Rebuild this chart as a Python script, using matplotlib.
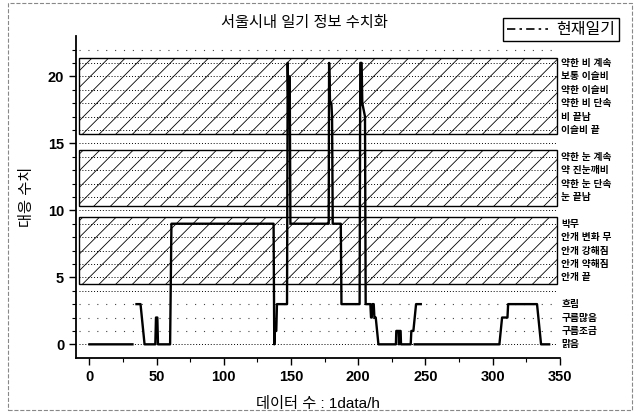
import numpy as np
import matplotlib
matplotlib.use('Agg')
import matplotlib.pyplot as plt
from matplotlib.patches import Rectangle
from matplotlib.lines import Line2D

plt.rcParams['font.family'] = ['Liberation Sans', 'Noto Sans CJK KR']
plt.rcParams['hatch.color'] = '#8c8c8c'
plt.rcParams['hatch.linewidth'] = 0.6

# weather code -> label shown on the right
codes = [0, 1, 2, 3, 5, 6, 7, 8, 9, 11, 12, 13, 14, 16, 17, 18, 19, 20, 21]
code_names = ['맑음', '구름조금', '구름많음', '흐림',
              '안개 끝', '안개 약해짐', '안개 강해짐', '안개 변화 무', '박무',
              '눈 끝남', '약한 눈 단속', '약 진눈깨비', '약한 눈 계속',
              '이슬비 끝', '비 끝남', '약한 비 단속', '약한 이슬비', '보통 이슬비', '약한 비 계속']

# hatched category bands (fog, snow, rain)
band_low = [4.5, 10.3, 15.7]
band_high = [9.5, 14.5, 21.4]

# observed weather, hourly (nan = missing)
hours = [0, 32, np.nan,
         35, 38, 39, 40, 41, 49, 49.5, 50.5, 51, 60, 61, 137, 137.5, 138, 139, 139.5,
         147, 147.5, 148, 149, 149.5, 178, 178.3, 179, 180, 180.5, 181, 187, 187.5,
         201, 201.5, 202.5, 203, 205, 205.5, 209, 209.5, 210, 210.5, 211.5, 212, 213, 215,
         228, 228.3, 230, 230.3, 230.6, 231.5, 231.8, 239, 239.5, 241, 243, 246.5, np.nan,
         242, 305, 307, 311, 311.5, 333, 333.5, 334.5, 336, 342]
weather = [0, 0, np.nan,
           3, 3, 2, 1, 0, 0, 2, 2, 0, 0, 9, 9, 0, 1, 1, 3,
           3, 21, 17, 20, 9, 9, 21, 18, 18, 17, 9, 9, 3,
           3, 21, 21, 18, 17, 3, 3, 2, 2, 3, 3, 2, 2, 0,
           0, 1, 1, 0, 1, 1, 0, 0, 1, 1, 3, 3, np.nan,
           0, 0, 2, 2, 3, 3, 2.5, 1.5, 0, 0]

fig = plt.figure(figsize=(6.35, 4.15), dpi=100)
ax = fig.add_axes([0.1197, 0.138, 0.762, 0.775])

x0, x1 = -8, 348
for lo, hi in zip(band_low, band_high):
    ax.add_patch(Rectangle((x0, lo), x1 - x0, hi - lo, facecolor='white',
                           edgecolor='black', linewidth=1.0, hatch='//', zorder=1))

for lvl in range(0, 23):
    if lvl in (1, 2, 3, 22):
        ax.plot([x0, x1], [lvl, lvl], color='#444444', linestyle=(0, (1, 7)),
                linewidth=0.8, zorder=2)
    else:
        ax.plot([x0, x1], [lvl, lvl], color='black', linestyle=(0, (1, 2)),
                linewidth=0.7, zorder=2)

ax.plot(hours, weather, color='black', linewidth=1.7, zorder=3)

for c, name in zip(codes, code_names):
    ax.text(351, c, name, fontsize=7, fontweight='bold', va='center', ha='left',
            clip_on=False)

ax.set_xlim(-10, 350)
ax.set_ylim(-1, 23)
ax.set_xticks(np.arange(0, 351, 50))
ax.set_xticks(np.arange(0, 351, 25), minor=True)
ax.set_yticks(np.arange(0, 21, 5))
ax.set_yticks(np.arange(0, 23, 1), minor=True)
ax.tick_params(labelsize=10.5, width=1.0, length=5, direction='out')
ax.tick_params(which='minor', width=0.8, length=3, direction='out')
for lab in ax.get_xticklabels() + ax.get_yticklabels():
    lab.set_fontweight('bold')
ax.spines['top'].set_visible(False)
ax.spines['right'].set_visible(False)
ax.spines['left'].set_linewidth(1.3)
ax.spines['bottom'].set_linewidth(1.3)

ax.set_xlabel('데이터 수 : 1data/h', fontsize=11, labelpad=10)
ax.set_ylabel('대응 수치', fontsize=11, labelpad=10)
fig.text(0.48, 0.945, '서울시내 일기 정보 수치화', fontsize=11, ha='center', va='center')

handle = Line2D([], [], color='black', linestyle=(0, (5, 2.5, 1.5, 2.5)), linewidth=1.2)
fig.legend([handle], ['현재일기'], loc='upper right', bbox_to_anchor=(0.988, 0.975),
           fancybox=False, edgecolor='black', framealpha=1, fontsize=11.5,
           handlelength=2.6, borderpad=0.25, handletextpad=0.5)

fig.add_artist(Rectangle((0.012, 0.012), 0.983, 0.98, transform=fig.transFigure,
                         fill=False, edgecolor='#888888', linestyle='--', linewidth=0.8))

fig.savefig('out.png', dpi=100)
